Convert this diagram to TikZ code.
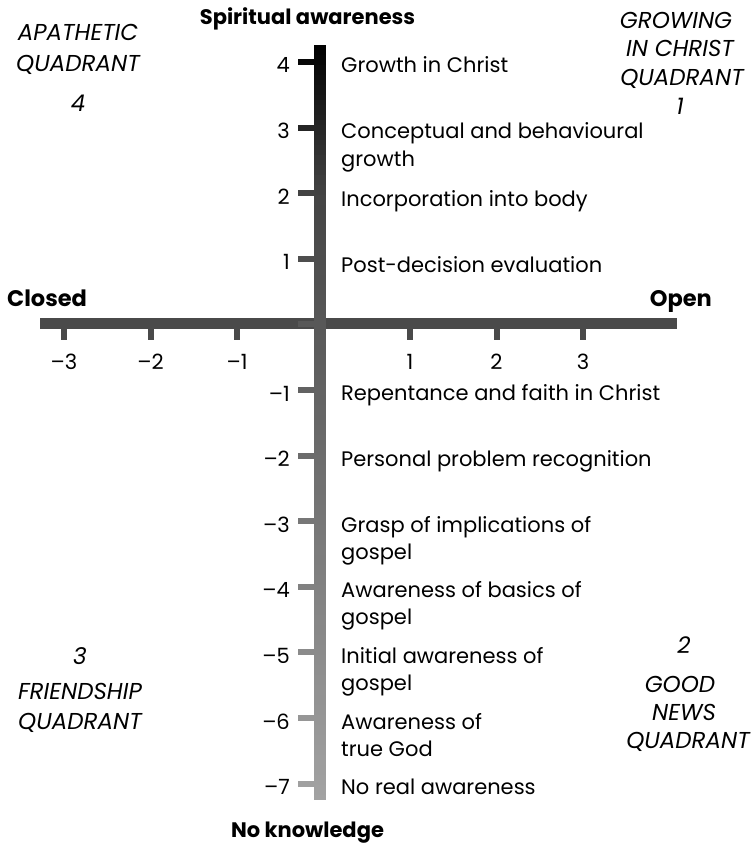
\documentclass[tikz,border=0pt]{standalone}
\usepackage{fontspec}
\setmainfont{Poppins}
\definecolor{haxis}{RGB}{74,74,74}
\newcommand{\axgray}[1]{%
  \pgfmathtruncatemacro{\gv}{(#1)<195 ? ((#1)-45)/150*68 : 68+((#1)-195)*0.157}%
  \definecolor{axc}{RGB}{\gv,\gv,\gv}}
\begin{document}
\begin{tikzpicture}[x=1pt,y=-1pt,
  txt/.style={inner sep=0pt, font=\fontsize{21}{27}\selectfont},
  lbl/.style={txt, anchor=base west},
  num/.style={txt, anchor=base east},
  hnum/.style={txt, anchor=base},
  axtitle/.style={inner sep=0pt, anchor=base, font=\fontsize{21}{27}\selectfont\bfseries},
  quad/.style={inner sep=0pt, anchor=base, font=\fontsize{23}{27}\selectfont\itshape}]
\useasboundingbox (0,0) rectangle (755,848);
% horizontal axis
\fill[haxis] (40,318) rectangle (677,329);
\foreach \k in {-3,-2,-1,1,2,3}{
  \pgfmathsetmacro{\xx}{323.5+86.5*\k}
  \fill[haxis] (\xx-3,320) rectangle (\xx+3,340);
  \node[hnum] (h\k) at (\xx,369) {\ifnum\k<0 –\the\numexpr-\k\relax\else\k\fi};
}
% vertical axis with gradient
\foreach \i in {0,...,150}{
  \pgfmathsetmacro{\ya}{45+5*\i}
  \axgray{\ya+2.5}
  \fill[axc] (314,\ya) rectangle (326,\ya+5.4);
}
% vertical ticks
\foreach \k in {4,3,2,1,0,-1,-2,-3,-4,-5,-6,-7}{
  \pgfmathsetmacro{\yy}{324.4-65.6*\k}
  \axgray{\yy}
  \fill[axc] (298,\yy-3) rectangle (314.5,\yy+3);
}
\foreach \k in {4,3,2,1,-1,-2,-3,-4,-5,-6,-7}{
  \pgfmathsetmacro{\yy}{324.4-65.6*\k}
  \node[num] (v\k) at (290,\yy+11) {\ifnum\k<0 –\the\numexpr-\k\relax\else\k\fi};
}
% stage labels
\node[lbl] (s4) at (341,73) {Growth in Christ};
\node[lbl] (s3a) at (341,139) {Conceptual and behavioural};
\node[lbl] (s3b) at (341,166) {growth};
\node[lbl] (s2) at (341,206) {Incorporation into body};
\node[lbl] (s1) at (341,272) {Post-decision evaluation};
\node[lbl] (m1) at (341,400) {Repentance and faith in Christ};
\node[lbl] (m2) at (341,466) {Personal problem recognition};
\node[lbl] (m3a) at (341,532) {Grasp of implications of};
\node[lbl] (m3b) at (341,559) {gospel};
\node[lbl] (m4a) at (341,597) {Awareness of basics of};
\node[lbl] (m4b) at (341,624) {gospel};
\node[lbl] (m5a) at (341,663) {Initial awareness of};
\node[lbl] (m5b) at (341,690) {gospel};
\node[lbl] (m6a) at (341,729) {Awareness of};
\node[lbl] (m6b) at (341,756) {true God};
\node[lbl] (m7) at (341,794) {No real awareness};
% axis titles
\node[axtitle] (top) at (307.5,25) {Spiritual awareness};
\node[axtitle] (bot) at (307.5,837) {No knowledge};
\node[axtitle, anchor=base west, font=\fontsize{22.5}{27}\selectfont\bfseries] (closed) at (7,306) {Closed};
\node[axtitle, anchor=base east, font=\fontsize{22.5}{27}\selectfont\bfseries] (open) at (712,306) {Open};
% quadrant labels
\node[quad] (q4a) at (78,41) {APATHETIC};
\node[quad] (q4b) at (78,72) {QUADRANT};
\node[quad] (q4c) at (78,112) {4};
\node[quad] (q1a) at (676,29) {GROWING};
\node[quad] (q1b) at (680,57) {IN CHRIST};
\node[quad] (q1c) at (682,86) {QUADRANT};
\node[quad] (q1d) at (680,115) {1};
\node[quad] (q3a) at (80,664) {3};
\node[quad] (q3b) at (80,699) {FRIENDSHIP};
\node[quad] (q3c) at (80,729) {QUADRANT};
\node[quad] (q2a) at (684,653) {2};
\node[quad] (q2b) at (680,692) {GOOD};
\node[quad] (q2c) at (684,720) {NEWS};
\node[quad] (q2d) at (688,748) {QUADRANT};
\end{tikzpicture}
\end{document}
